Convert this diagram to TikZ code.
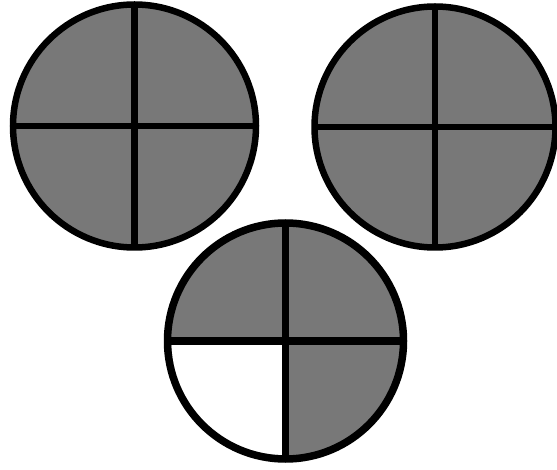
\documentclass[tikz,border=0pt]{standalone}
\usepackage{tikz}
\usetikzlibrary{positioning}
\definecolor{quartergray}{RGB}{120,120,120}

\begin{document}
\begin{tikzpicture}[x=1pt,y=1pt,
    disc/.style={circle,draw=black,fill=quartergray,inner sep=0pt,outer sep=0pt},
    cross/.style={draw=black}]
    \useasboundingbox (0,0) rectangle (557,469);
    % two full circles on top
    \node[disc,line width=6.5pt,minimum size=243pt] (left) at (134.5,343) {};
    \node[disc,line width=6.5pt,minimum size=241pt] (right) at (435,342) {};
    % three quarters circle below
    \node[disc,line width=7.5pt,minimum size=236pt] (low) at (285.5,128) {};
    \fill[white] (low.center) -- ++(180:114) arc (180:270:114) -- cycle;
    % quarter lines
    \foreach \c/\w in {left/6.5pt,right/6.5pt,low/7.5pt}{
        \draw[cross,line width=\w] (\c.north) -- (\c.south);
        \draw[cross,line width=\w] (\c.west) -- (\c.east);
    }
\end{tikzpicture}
\end{document}
